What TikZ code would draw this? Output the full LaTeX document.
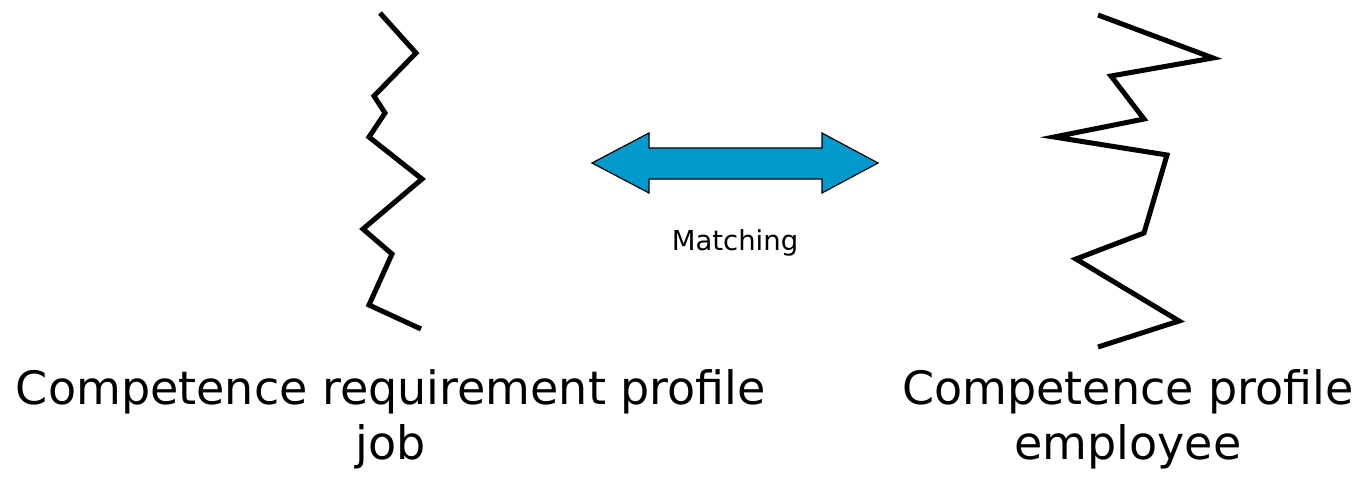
\documentclass[tikz,border=0pt]{standalone}
\usepackage{fontspec}
\setmainfont{DejaVu Sans}
\definecolor{matchblue}{HTML}{0099CC}
\begin{document}
\begin{tikzpicture}[x=1pt,y=-1pt,
  profile/.style={line width=5pt, line join=miter, miter limit=10},
  caption/.style={font=\fontsize{46}{55}\selectfont, align=center, inner sep=0pt, anchor=base},
  matchlabel/.style={font=\fontsize{27.5}{32}\selectfont, inner sep=0pt, anchor=base},
  matcharrow/.style={fill=matchblue, draw=black, line width=1.2pt, line join=miter}]
\useasboundingbox (0,0) rectangle (1365,484);

% required competence profile of the job
\draw[profile] (380,13) -- (416,53) -- (374,96) -- (385,113) -- (369,137)
  -- (422,179) -- (363,229) -- (392,254) -- (369,305) -- (421,329);

% competence profile of the employee
\draw[profile] (1098,15) -- (1213,58) -- (1111,76) -- (1144,119) -- (1054,137)
  -- (1167,155) -- (1144,233) -- (1076,259) -- (1179,321) -- (1098,347);

% double-headed matching arrow
\draw[matcharrow] (592,163) -- (649,133) -- (649,148) -- (822,148) -- (822,133)
  -- (878,163) -- (822,193) -- (822,179) -- (649,179) -- (649,193) -- cycle;

\node[matchlabel] (match) at (735,250) {Matching};

% captions: the anchor sits on the baseline of the second line
\node[caption] (job) at (391,459) {Competence requirement profile\\job};
\node[caption] (emp) at (1128,459) {Competence profile\\employee};
\end{tikzpicture}
\end{document}
